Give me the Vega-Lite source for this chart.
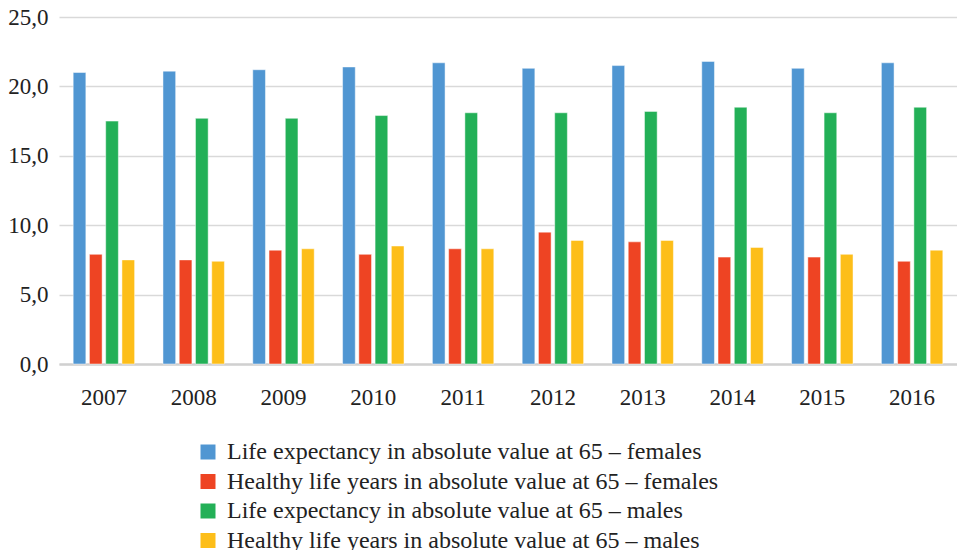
{
  "$schema": "https://vega.github.io/schema/vega-lite/v6.json",
  "width": 898,
  "height": 347,
  "autosize": {"type": "none"},
  "padding": {"left": 59, "top": 17, "right": 0, "bottom": 186},
  "background": "white",
  "data": {
    "values": [
      {"year": "2007", "series": "Life expectancy in absolute value at 65 – females", "value": 21.0},
      {"year": "2007", "series": "Healthy life years in absolute value at 65 – females", "value": 7.9},
      {"year": "2007", "series": "Life expectancy in absolute value at 65 – males", "value": 17.5},
      {"year": "2007", "series": "Healthy life years in absolute value at 65 – males", "value": 7.5},
      {"year": "2008", "series": "Life expectancy in absolute value at 65 – females", "value": 21.1},
      {"year": "2008", "series": "Healthy life years in absolute value at 65 – females", "value": 7.5},
      {"year": "2008", "series": "Life expectancy in absolute value at 65 – males", "value": 17.7},
      {"year": "2008", "series": "Healthy life years in absolute value at 65 – males", "value": 7.4},
      {"year": "2009", "series": "Life expectancy in absolute value at 65 – females", "value": 21.2},
      {"year": "2009", "series": "Healthy life years in absolute value at 65 – females", "value": 8.2},
      {"year": "2009", "series": "Life expectancy in absolute value at 65 – males", "value": 17.7},
      {"year": "2009", "series": "Healthy life years in absolute value at 65 – males", "value": 8.3},
      {"year": "2010", "series": "Life expectancy in absolute value at 65 – females", "value": 21.4},
      {"year": "2010", "series": "Healthy life years in absolute value at 65 – females", "value": 7.9},
      {"year": "2010", "series": "Life expectancy in absolute value at 65 – males", "value": 17.9},
      {"year": "2010", "series": "Healthy life years in absolute value at 65 – males", "value": 8.5},
      {"year": "2011", "series": "Life expectancy in absolute value at 65 – females", "value": 21.7},
      {"year": "2011", "series": "Healthy life years in absolute value at 65 – females", "value": 8.3},
      {"year": "2011", "series": "Life expectancy in absolute value at 65 – males", "value": 18.1},
      {"year": "2011", "series": "Healthy life years in absolute value at 65 – males", "value": 8.3},
      {"year": "2012", "series": "Life expectancy in absolute value at 65 – females", "value": 21.3},
      {"year": "2012", "series": "Healthy life years in absolute value at 65 – females", "value": 9.5},
      {"year": "2012", "series": "Life expectancy in absolute value at 65 – males", "value": 18.1},
      {"year": "2012", "series": "Healthy life years in absolute value at 65 – males", "value": 8.9},
      {"year": "2013", "series": "Life expectancy in absolute value at 65 – females", "value": 21.5},
      {"year": "2013", "series": "Healthy life years in absolute value at 65 – females", "value": 8.8},
      {"year": "2013", "series": "Life expectancy in absolute value at 65 – males", "value": 18.2},
      {"year": "2013", "series": "Healthy life years in absolute value at 65 – males", "value": 8.9},
      {"year": "2014", "series": "Life expectancy in absolute value at 65 – females", "value": 21.8},
      {"year": "2014", "series": "Healthy life years in absolute value at 65 – females", "value": 7.7},
      {"year": "2014", "series": "Life expectancy in absolute value at 65 – males", "value": 18.5},
      {"year": "2014", "series": "Healthy life years in absolute value at 65 – males", "value": 8.4},
      {"year": "2015", "series": "Life expectancy in absolute value at 65 – females", "value": 21.3},
      {"year": "2015", "series": "Healthy life years in absolute value at 65 – females", "value": 7.7},
      {"year": "2015", "series": "Life expectancy in absolute value at 65 – males", "value": 18.1},
      {"year": "2015", "series": "Healthy life years in absolute value at 65 – males", "value": 7.9},
      {"year": "2016", "series": "Life expectancy in absolute value at 65 – females", "value": 21.7},
      {"year": "2016", "series": "Healthy life years in absolute value at 65 – females", "value": 7.4},
      {"year": "2016", "series": "Life expectancy in absolute value at 65 – males", "value": 18.5},
      {"year": "2016", "series": "Healthy life years in absolute value at 65 – males", "value": 8.2}
    ]
  },
  "mark": {"type": "bar", "stroke": "white", "strokeWidth": 0.8, "strokeOpacity": 0.6},
  "encoding": {
    "x": {
      "field": "year",
      "type": "ordinal",
      "scale": {"paddingInner": 0.276, "paddingOuter": 0.138},
      "axis": {
        "title": null,
        "labelAngle": 0,
        "ticks": false,
        "domainColor": "#d0d0d0",
        "domainWidth": 2.5,
        "labelPadding": 22,
        "labelFont": "Liberation Serif",
        "labelFontSize": 23,
        "labelColor": "#222222"
      }
    },
    "xOffset": {
      "field": "series",
      "type": "nominal",
      "sort": [
        "Life expectancy in absolute value at 65 – females",
        "Healthy life years in absolute value at 65 – females",
        "Life expectancy in absolute value at 65 – males",
        "Healthy life years in absolute value at 65 – males"
      ],
      "scale": {"paddingInner": 0.22, "paddingOuter": 0.11}
    },
    "y": {
      "field": "value",
      "type": "quantitative",
      "scale": {"domain": [0, 25], "nice": false},
      "axis": {
        "title": null,
        "values": [0, 5, 10, 15, 20, 25],
        "labelExpr": "replace(format(datum.value, '.1f'), '.', ',')",
        "ticks": false,
        "domain": false,
        "gridColor": "#d9d9d9",
        "gridWidth": 1.5,
        "labelPadding": 11,
        "labelFont": "Liberation Serif",
        "labelFontSize": 23,
        "labelColor": "#222222"
      }
    },
    "color": {
      "field": "series",
      "type": "nominal",
      "sort": [
        "Life expectancy in absolute value at 65 – females",
        "Healthy life years in absolute value at 65 – females",
        "Life expectancy in absolute value at 65 – males",
        "Healthy life years in absolute value at 65 – males"
      ],
      "scale": {"range": ["#5096d2", "#ee4423", "#23b057", "#fdbe19"]},
      "legend": {
        "title": null,
        "orient": "none",
        "legendX": 137,
        "legendY": 423,
        "direction": "vertical",
        "symbolType": "square",
        "symbolSize": 225,
        "symbolStrokeWidth": 0,
        "labelFont": "Liberation Serif",
        "labelFontSize": 24,
        "labelColor": "#222222",
        "labelLimit": 800,
        "labelOffset": 7,
        "rowPadding": 5.5
      }
    }
  },
  "config": {"view": {"stroke": null}}
}
